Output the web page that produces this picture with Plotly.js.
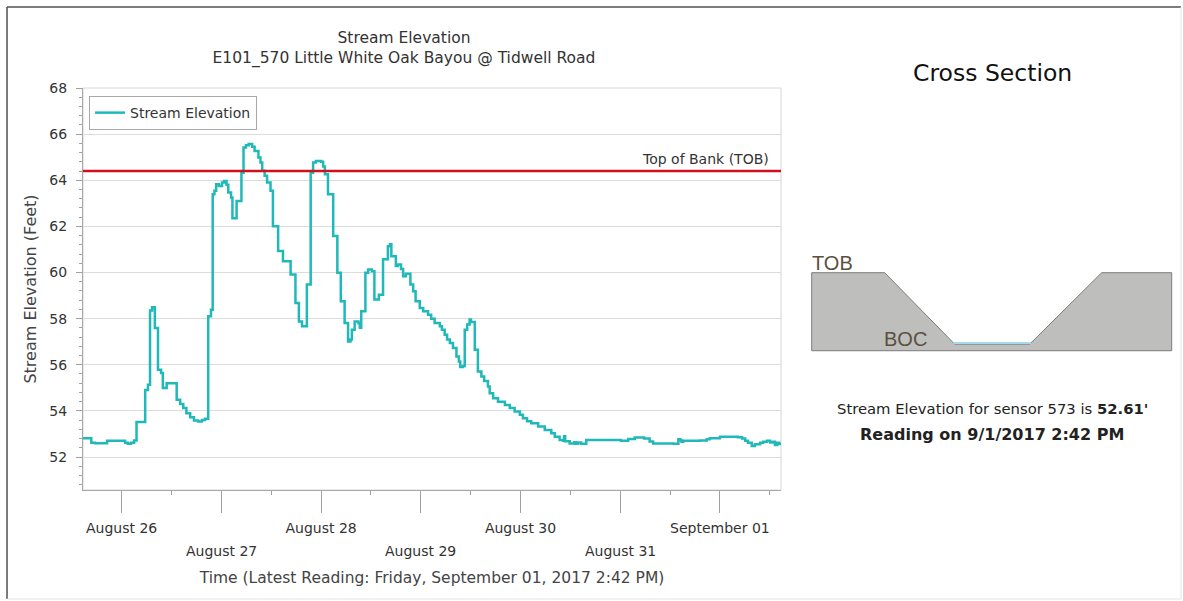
<!DOCTYPE html>
<html>
<head>
<meta charset="utf-8">
<script src="https://cdn.plot.ly/plotly-3.0.1.min.js"></script>
<style>
html,body{margin:0;padding:0;background:#fff;}
#chart{width:1183px;height:601px;}
</style>
</head>
<body>
<div id="chart"></div>
<script>
// ---------------- data ----------------
const readingTimes = [
'2017-08-25 14:42','2017-08-25 16:42','2017-08-25 17:35','2017-08-25 20:30',
'2017-08-26 00:50','2017-08-26 01:30','2017-08-26 02:15','2017-08-26 03:00','2017-08-26 03:35',
'2017-08-26 05:40','2017-08-26 06:20','2017-08-26 06:50','2017-08-26 07:20','2017-08-26 08:00',
'2017-08-26 08:45','2017-08-26 09:30','2017-08-26 09:55','2017-08-26 10:50','2017-08-26 13:15',
'2017-08-26 14:05','2017-08-26 14:50','2017-08-26 15:35','2017-08-26 16:30','2017-08-26 17:25',
'2017-08-26 18:25','2017-08-26 19:20','2017-08-26 20:05','2017-08-26 20:50','2017-08-26 21:30',
'2017-08-26 21:55','2017-08-26 22:20','2017-08-26 22:45','2017-08-26 23:25',
'2017-08-27 00:10','2017-08-27 00:40','2017-08-27 01:15','2017-08-27 01:40','2017-08-27 02:20',
'2017-08-27 02:40','2017-08-27 03:40','2017-08-27 04:50','2017-08-27 05:20','2017-08-27 05:55',
'2017-08-27 06:35','2017-08-27 07:25','2017-08-27 08:00','2017-08-27 08:55','2017-08-27 09:25',
'2017-08-27 09:50','2017-08-27 10:25','2017-08-27 11:00','2017-08-27 11:50','2017-08-27 12:25',
'2017-08-27 13:40','2017-08-27 14:50','2017-08-27 16:40','2017-08-27 17:50','2017-08-27 18:40',
'2017-08-27 19:25','2017-08-27 20:35','2017-08-27 21:30','2017-08-27 22:05','2017-08-27 22:45',
'2017-08-28 00:00','2017-08-28 00:30','2017-08-28 00:55','2017-08-28 01:40','2017-08-28 02:55',
'2017-08-28 03:55','2017-08-28 04:45','2017-08-28 05:40','2017-08-28 06:30','2017-08-28 07:05',
'2017-08-28 07:25','2017-08-28 08:05','2017-08-28 09:00','2017-08-28 09:20','2017-08-28 09:40',
'2017-08-28 10:40','2017-08-28 11:20','2017-08-28 12:15','2017-08-28 12:50','2017-08-28 13:55',
'2017-08-28 14:55','2017-08-28 16:05','2017-08-28 16:35','2017-08-28 16:55','2017-08-28 18:00',
'2017-08-28 18:30','2017-08-28 19:15','2017-08-28 19:45','2017-08-28 20:25','2017-08-28 21:30',
'2017-08-28 22:10','2017-08-28 22:45','2017-08-28 23:45',
'2017-08-29 00:35','2017-08-29 01:45','2017-08-29 02:30','2017-08-29 03:20','2017-08-29 04:35',
'2017-08-29 05:05','2017-08-29 05:45','2017-08-29 06:20','2017-08-29 07:00','2017-08-29 07:45',
'2017-08-29 08:35','2017-08-29 09:10','2017-08-29 09:30','2017-08-29 10:10','2017-08-29 10:35',
'2017-08-29 11:10','2017-08-29 11:45','2017-08-29 12:05','2017-08-29 13:00','2017-08-29 13:45',
'2017-08-29 14:35','2017-08-29 15:15','2017-08-29 16:10','2017-08-29 16:35','2017-08-29 17:25',
'2017-08-29 18:35','2017-08-29 20:15','2017-08-29 21:25','2017-08-29 22:35','2017-08-29 23:50',
'2017-08-30 00:35','2017-08-30 01:35','2017-08-30 02:35','2017-08-30 04:15','2017-08-30 05:50',
'2017-08-30 07:25','2017-08-30 08:15','2017-08-30 09:25','2017-08-30 10:15','2017-08-30 10:30',
'2017-08-30 10:45','2017-08-30 11:50','2017-08-30 12:55','2017-08-30 13:15','2017-08-30 13:50',
'2017-08-30 14:35','2017-08-30 15:50',
'2017-08-31 00:10','2017-08-31 01:55','2017-08-31 03:30','2017-08-31 05:45','2017-08-31 07:05',
'2017-08-31 07:55','2017-08-31 12:45','2017-08-31 14:00','2017-08-31 14:25','2017-08-31 14:45',
'2017-08-31 15:10','2017-08-31 19:15','2017-08-31 20:50','2017-08-31 21:35',
'2017-09-01 00:00','2017-09-01 04:20','2017-09-01 05:20','2017-09-01 06:05','2017-09-01 06:45',
'2017-09-01 07:40','2017-09-01 08:25','2017-09-01 09:40','2017-09-01 10:25','2017-09-01 11:20',
'2017-09-01 12:05','2017-09-01 12:45','2017-09-01 13:15','2017-09-01 13:45','2017-09-01 14:15',
'2017-09-01 14:42'
];
const readingValues = [
52.81,52.62,52.60,52.70,
52.62,52.58,52.62,52.72,53.52,
54.91,55.13,58.35,58.49,57.59,
55.78,55.64,54.99,55.20,54.48,
54.30,54.12,53.90,53.72,53.58,
53.54,53.60,53.66,58.10,58.39,
63.39,63.55,63.83,63.75,
63.90,63.97,63.80,63.47,63.25,
62.35,63.10,64.33,65.42,65.52,
65.57,65.45,65.27,64.99,64.77,
64.41,64.19,63.90,63.54,62.01,
60.93,60.49,59.91,58.68,57.88,
57.67,59.48,64.33,64.77,64.84,
64.80,64.60,64.26,63.39,61.58,
59.99,58.75,57.81,57.01,57.10,
57.52,57.88,57.80,57.60,58.32,
59.99,60.13,60.05,58.83,59.04,
60.57,61.14,61.22,60.71,60.28,
60.35,60.15,59.84,59.95,59.48,
59.19,58.75,58.46,
58.32,58.17,58.00,57.81,57.67,
57.52,57.30,57.10,56.94,56.73,
56.36,56.14,55.90,55.95,57.52,
57.75,57.96,57.85,56.65,55.71,
55.49,55.30,55.06,54.77,54.55,
54.40,54.26,54.12,53.97,53.83,
53.68,53.55,53.46,53.32,53.17,
53.03,52.88,52.74,52.70,52.90,
52.68,52.59,52.64,52.58,52.63,
52.58,52.74,
52.70,52.78,52.85,52.80,52.67,
52.59,52.57,52.77,52.74,52.66,
52.71,52.72,52.77,52.81,
52.88,52.86,52.80,52.71,52.62,
52.48,52.55,52.62,52.66,52.70,
52.63,52.66,52.52,52.62,52.56,
52.61
];
const topOfBank = 64.4;
const tickDates = ['2017-08-26','2017-08-27','2017-08-28','2017-08-29','2017-08-30','2017-08-31','2017-09-01'];
const tickLabels = ['August 26','August 27','August 28','August 29','August 30','August 31','September 01'];

// cross section profile (station, elevation)
const xsStations = [0, 73, 143, 218, 290, 360];
const xsElevations = [64.4, 64.4, 52.4, 52.4, 64.4, 64.4];
const xsBaseElevation = 51.3;
const sensorId = 573;
const latestElevation = 52.61;
const latestReadingText = '9/1/2017 2:42 PM';

// ---------------- build ----------------
const FONT = 'DejaVu Sans, Verdana, sans-serif';
const TXT = '#333333';

function interpStation(i0, i1, elev) {
  const x0 = xsStations[i0], x1 = xsStations[i1], y0 = xsElevations[i0], y1 = xsElevations[i1];
  return x0 + (elev - y0) * (x1 - x0) / (y1 - y0);
}
const last = xsStations.length - 1;
const profX = xsStations.concat([xsStations[last], xsStations[0], xsStations[0]]);
const profY = xsElevations.concat([xsBaseElevation, xsBaseElevation, xsElevations[0]]);
const waterX = [interpStation(1, 2, latestElevation), interpStation(3, 4, latestElevation)];
const waterY = [latestElevation, latestElevation];

const traces = [
  {
    x: readingTimes, y: readingValues, type: 'scatter', mode: 'lines',
    name: 'Stream Elevation', line: {color: '#20B8B8', width: 2.5, shape: 'hv'},
    xaxis: 'x', yaxis: 'y', hoverinfo: 'skip'
  },
  {
    x: profX, y: profY, type: 'scatter', mode: 'lines', fill: 'toself',
    fillcolor: '#BEBEBC', line: {color: '#7C7C7C', width: 1},
    xaxis: 'x2', yaxis: 'y2', showlegend: false, hoverinfo: 'skip'
  },
  {
    x: waterX, y: waterY, type: 'scatter', mode: 'lines',
    line: {color: '#A5DAEC', width: 2},
    xaxis: 'x2', yaxis: 'y2', showlegend: false, hoverinfo: 'skip'
  }
];

const annotations = [];
tickLabels.forEach((lab, i) => {
  if (i % 2 === 1) {
    annotations.push({x: tickDates[i], xref: 'x', y: -0.1517, yref: 'paper', yanchor: 'middle',
      text: lab, showarrow: false, font: {family: FONT, size: 14, color: TXT}});
  }
});
annotations.push({x: 0.985, xref: 'x domain', y: topOfBank, yref: 'y', xanchor: 'right', yanchor: 'bottom',
  yshift: 2, text: 'Top of Bank (TOB)', showarrow: false, font: {family: FONT, size: 14, color: TXT}});
annotations.push({x: 0.8279, xref: 'paper', y: 1.0373, yref: 'paper', xanchor: 'center', yanchor: 'middle',
  text: 'Cross Section', showarrow: false, font: {family: FONT, size: 23.5, color: '#111'}});
annotations.push({x: xsStations[0], xref: 'x2', y: xsElevations[0], yref: 'y2', xanchor: 'left', yanchor: 'bottom',
  xshift: -2, yshift: -3, text: 'TOB', showarrow: false, font: {family: 'Liberation Sans, Arial, sans-serif', size: 20, color: '#5B4F41'}});
annotations.push({x: xsStations[1], xref: 'x2', y: xsElevations[2], yref: 'y2', xanchor: 'left', yanchor: 'bottom',
  xshift: -3, yshift: -8, text: 'BOC', showarrow: false, font: {family: 'Liberation Sans, Arial, sans-serif', size: 20, color: '#5B4F41'}});
annotations.push({x: 0.8279, xref: 'paper', y: 0.2015, yref: 'paper', xanchor: 'center', yanchor: 'middle',
  text: 'Stream Elevation for sensor ' + sensorId + ' is <b>' + latestElevation.toFixed(2) + "'</b>",
  showarrow: false, font: {family: FONT, size: 14.8, color: '#222'}});
annotations.push({x: 0.8279, xref: 'paper', y: 0.1393, yref: 'paper', xanchor: 'center', yanchor: 'middle',
  text: '<b>Reading on ' + latestReadingText + '</b>',
  showarrow: false, font: {family: FONT, size: 16, color: '#222'}});

const shapes = [
  {type: 'rect', xref: 'x domain', yref: 'y domain', x0: 0, x1: 1, y0: 0, y1: 1,
   line: {color: '#D6D6D6', width: 1}, layer: 'below'},
  {type: 'line', xref: 'x domain', yref: 'y', x0: 0, x1: 1, y0: topOfBank, y1: topOfBank,
   line: {color: '#D0101C', width: 2.5}},
  {type: 'line', xref: 'paper', yref: 'paper', x0: -0.0692, x1: -0.0692, y0: -0.2711, y1: 1.2015,
   line: {color: '#505050', width: 1.5}},
  {type: 'line', xref: 'paper', yref: 'paper', x0: -0.0692, x1: 1.0, y0: 1.2015, y1: 1.2015,
   line: {color: '#505050', width: 1.5}},
  {type: 'line', xref: 'paper', yref: 'paper', x0: 1.0, x1: 1.0, y0: -0.2711, y1: 1.2015,
   line: {color: '#E4E4E4', width: 1}},
  {type: 'line', xref: 'paper', yref: 'paper', x0: -0.0692, x1: 1.0, y0: -0.2711, y1: -0.2711,
   line: {color: '#E4E4E4', width: 1}}
];

const layout = {
  width: 1183, height: 601,
  margin: {l: 83, r: 2, t: 88, b: 111, pad: 0},
  paper_bgcolor: '#ffffff', plot_bgcolor: '#ffffff',
  font: {family: FONT, size: 14, color: TXT},
  title: {
    text: 'Stream Elevation<br>E101_570 Little White Oak Bayou @ Tidwell Road',
    xref: 'container', x: 404 / 1183, xanchor: 'center',
    yref: 'container', y: 1 - 42.5 / 601, yanchor: 'top',
    font: {family: FONT, size: 15.5, color: TXT}
  },
  showlegend: true,
  legend: {
    x: 0.0055, y: 0.98, xanchor: 'left', yanchor: 'top',
    bgcolor: '#ffffff', bordercolor: '#A8A8A8', borderwidth: 1,
    font: {family: FONT, size: 14, color: TXT}
  },
  xaxis: {
    type: 'date', domain: [0, 0.6357], anchor: 'y',
    range: ['2017-08-25 14:42', '2017-09-01 14:42'],
    tickmode: 'array', tickvals: tickDates,
    ticktext: tickLabels.map((l, i) => (i % 2 === 0 ? l : '')),
    ticks: 'outside', ticklen: 22, tickwidth: 1, tickcolor: '#A0A0A0',
    ticklabelstandoff: 3,
    tickfont: {family: FONT, size: 14, color: TXT},
    showgrid: false, zeroline: false,
    showline: true, linecolor: '#A8A8A8', linewidth: 1,
    minor: {ticks: 'outside', ticklen: 4, tickcolor: '#A0A0A0',
            dtick: 12 * 3600 * 1000, tick0: '2017-08-26 12:00', showgrid: false},
    title: {text: 'Time (Latest Reading: Friday, September 01, 2017 2:42 PM)',
            font: {family: FONT, size: 15.5, color: '#444'}, standoff: 37}
  },
  yaxis: {
    domain: [0, 1], anchor: 'x',
    range: [50.57, 68], dtick: 2, tick0: 0,
    ticks: 'outside', ticklen: 6, tickcolor: '#A0A0A0',
    ticklabelstandoff: 6,
    tickfont: {family: FONT, size: 14, color: TXT},
    showgrid: true, gridcolor: '#DCDCDC', gridwidth: 1, zeroline: false,
    showline: true, linecolor: '#A8A8A8', linewidth: 1,
    minor: {ticks: 'outside', ticklen: 3, tickcolor: '#A0A0A0', dtick: 0.4, tick0: 0, showgrid: false},
    title: {text: 'Stream Elevation (Feet)', font: {family: FONT, size: 16, color: '#444'}, standoff: 8}
  },
  xaxis2: {
    domain: [0.66184, 0.99335], anchor: 'y2', range: [-2, 362],
    visible: false, fixedrange: true
  },
  yaxis2: {
    domain: [0.3420, 0.5450], anchor: 'x2', range: [51.0, 64.7],
    visible: false, fixedrange: true
  },
  annotations: annotations,
  shapes: shapes
};

Plotly.newPlot('chart', traces, layout, {displayModeBar: false, staticPlot: true});
</script>
</body>
</html>
